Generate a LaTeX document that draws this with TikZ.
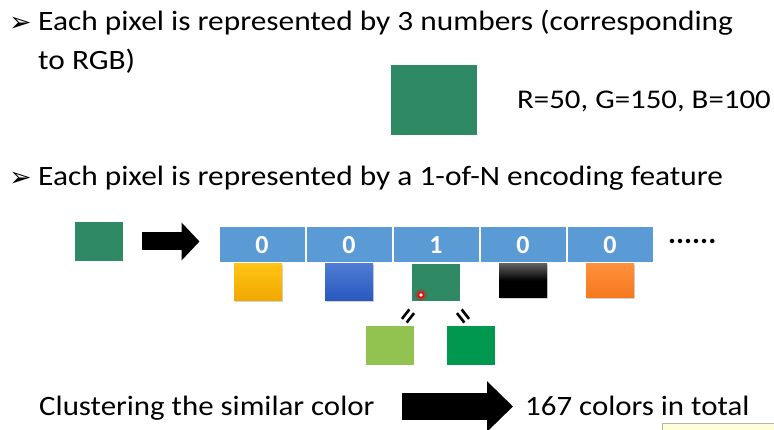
\documentclass[tikz,border=0pt]{standalone}
\usepackage{fontspec}
\setmainfont{Carlito}
\newfontfamily\symfont{DejaVu Sans}
\usetikzlibrary{positioning,arrows.meta,shadows}

\definecolor{pixgreen}{RGB}{46,137,100}
\definecolor{barblue}{RGB}{91,155,213}
\definecolor{litegreen}{RGB}{146,195,80}
\definecolor{darkgreen}{RGB}{0,152,78}
\definecolor{tipyellow}{RGB}{255,255,215}

\tikzset{
  txt/.style={font=\fontsize{28}{34}\selectfont, anchor=base west, inner sep=0, xscale=1.12},
  bullet/.style={font=\symfont\fontsize{27}{27}\selectfont, anchor=base west, inner sep=0},
  cell/.style={fill=barblue, draw=white, line width=1pt, minimum width=86pt,
    minimum height=36pt, inner sep=0, text=white, font=\fontsize{26}{26}\selectfont\bfseries},
  swatch/.style={minimum width=48pt, minimum height=37pt, inner sep=0},
  shade3d/.style={swatch, drop shadow={shadow xshift=1pt, shadow yshift=-1.5pt, opacity=.35}},
  fatarrow/.style={line width=#1},
  eqline/.style={line width=2.6pt}
}

\begin{document}
\begin{tikzpicture}[x=1pt, y=-1pt]
\useasboundingbox (0,0) rectangle (774,430);

% first bullet
\node[bullet] (b1) at (9,32) {➢};
\node[txt] (t1) at (38,31) {Each pixel is represented by 3 numbers (corresponding};
\node[txt] (t2) at (38,70) {to RGB)};
\node[swatch, fill=pixgreen, minimum width=86pt, minimum height=70pt] (big) at (434,100) {};
\node[txt, font=\fontsize{27}{30}\selectfont, xscale=1.02] (rgb) at (517,109) {R=50, G=150, B=100};

% second bullet
\node[bullet] (b2) at (9,187) {➢};
\node[txt] (t3) at (38,186) {Each pixel is represented by a 1-of-N encoding feature};
\node[swatch, fill=pixgreen, minimum height=39pt] (src) at (99,241.5) {};

% the 1-of-N bar
\node[cell] (c1) at (262,245) {0};
\node[cell, right=0pt of c1] (c2) {0};
\node[cell, right=0pt of c2] (c3) {1};
\node[cell, right=0pt of c3] (c4) {0};
\node[cell, right=0pt of c4] (c5) {0};
\node[font=\fontsize{30}{30}\selectfont\bfseries, anchor=base west, inner sep=0] (more) at (668,244) {......};

\coordinate (aS) at ([xshift=19pt]src.east);
\coordinate (aE) at ([xshift=-19pt]c1.west |- src.east);
\draw[fatarrow=18pt, -{Triangle[length=18pt, width=37pt]}] (aS) -- (aE);

% colours of the cells
\node[shade3d, below=0pt of c1, xshift=-4pt, top color={rgb,255:red,255;green,196;blue,20}, bottom color={rgb,255:red,240;green,168;blue,0}] (s1) {};
\node[shade3d, below=0pt of c2, top color={rgb,255:red,78;green,124;blue,212}, bottom color={rgb,255:red,40;green,88;blue,190}] (s2) {};
\node[swatch, below=0pt of c3, fill=pixgreen] (s3) {};
\node[shade3d, below=0pt of c4, minimum height=34pt, top color={rgb,255:red,95;green,95;blue,95}, bottom color=black, middle color=black] (s4) {};
\node[shade3d, below=0pt of c5, minimum height=34pt, top color={rgb,255:red,255;green,145;blue,60}, bottom color={rgb,255:red,245;green,120;blue,30}] (s5) {};

% laser pointer
\fill[red, opacity=.25] (421,295) circle (6pt);
\draw[red, line width=1.6pt, fill=white] (421,295) circle (2.6pt);

% similar colours
\begin{scope}[shift={(408,316)}, rotate=52]
  \draw[eqline] (-6,-3) -- (6,-3) (-6,3) -- (6,3);
\end{scope}
\begin{scope}[shift={(463,316)}, rotate=-52]
  \draw[eqline] (-6,-3) -- (6,-3) (-6,3) -- (6,3);
\end{scope}
\node[swatch, fill=litegreen, minimum height=39pt] (g1) at (390,345.5) {};
\node[swatch, fill=darkgreen, minimum height=39pt] (g2) at (471,345.5) {};

% clustering
\node[txt, xscale=.985] (t4) at (39,415) {Clustering the similar color};
\node[txt, xscale=.985] (t5) at (525,415) {167 colors in total};
\coordinate (bS) at (402,406.5);
\coordinate (bE) at (513,406.5);
\draw[fatarrow=27pt, -{Triangle[length=26pt, width=49pt]}] (bS) -- (bE);

\draw[gray!60, fill=tipyellow] (662,423) rectangle (775,431);
\end{tikzpicture}
\end{document}
